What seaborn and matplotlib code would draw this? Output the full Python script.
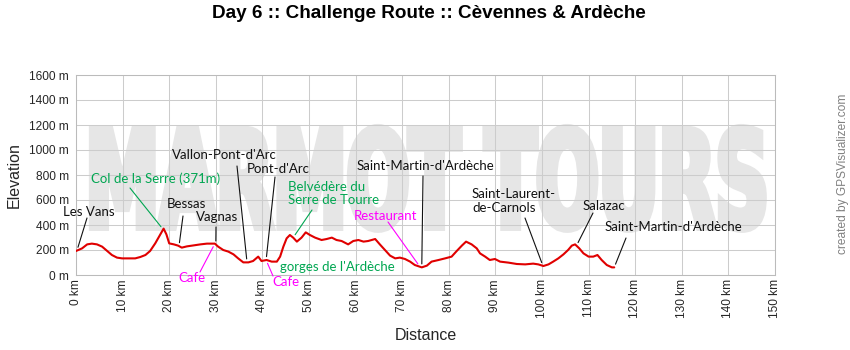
import numpy as np
import pandas as pd
import seaborn as sns
import matplotlib
matplotlib.use("Agg")
import matplotlib.pyplot as plt
from matplotlib import patheffects
from matplotlib.transforms import Affine2D
from matplotlib.textpath import TextPath
from matplotlib.font_manager import FontProperties

# ---------------- data ----------------
km = [0, 1.3, 2.4, 3.4, 4.5, 5.6, 6.7, 7.7, 8.8, 9.9, 11.3, 12.7, 13.8, 14.9, 15.9,
      17.0, 18.1, 18.8, 19.4, 20.0, 21.0, 21.9, 22.7, 23.8, 24.9, 26.7, 28.1, 29.8,
      30.5, 31.6, 32.7, 33.8, 34.8, 35.9, 37.0, 38.0, 39.1, 39.8, 40.9, 42.0, 43.1,
      43.8, 44.5, 45.2, 45.9, 46.6, 47.4, 48.4, 49.3, 50.2, 51.3, 52.7, 53.8, 54.9,
      55.9, 57.0, 58.4, 59.5, 60.6, 61.7, 62.7, 64.2, 65.2, 66.3, 67.4, 68.5, 69.5,
      70.6, 71.7, 72.7, 74.2, 75.3, 76.3, 77.8, 79.2, 80.6, 81.7, 82.8, 83.7, 84.9,
      86.0, 86.7, 87.8, 88.8, 89.9, 91.0, 92.8, 94.6, 96.4, 98.1, 99.2, 100.3, 101.4,
      102.4, 103.5, 104.6, 105.6, 106.4, 107.1, 108.0, 108.9, 110.0, 111.0, 111.9,
      112.8, 113.9, 115.0, 115.5]
elev = [192, 213, 245, 251, 245, 227, 192, 160, 139, 133, 133, 133, 144, 160, 192,
        253, 325, 371, 325, 253, 245, 235, 219, 229, 235, 245, 251, 251,
        227, 200, 187, 165, 133, 101, 101, 112, 147, 112, 120, 107, 107,
        147, 227, 293, 320, 299, 267, 299, 341, 320, 299, 280, 288, 299,
        280, 272, 245, 272, 280, 267, 272, 288, 245, 200, 155, 133, 139,
        128, 107, 80, 61, 75, 107, 120, 133, 147, 192, 235, 267, 245,
        213, 173, 147, 120, 128, 107, 99, 88, 85, 91, 85, 72, 85,
        107, 133, 165, 200, 235, 245, 213, 173, 147, 147, 160,
        120, 80, 61, 61]

x_ticks = list(range(0, 151, 10))
y_ticks = list(range(0, 1601, 200))
x_tick_labels = [f"{v} km" for v in x_ticks]
y_tick_labels = [f"{v} m" for v in y_ticks]

title = "Day 6 :: Challenge Route :: Cèvennes & Ardèche"
watermark = "MARMOT TOURS"
credit = "created by GPSVisualizer.com"

# waypoints: name, km on the route, kind
wp_names = ["Les Vans", "Col de la Serre (371m)", "Bessas", "Vagnas",
            "Vallon-Pont-d'Arc", "Pont-d'Arc", "Belvédère du\nSerre de Tourre",
            "gorges de l'Ardèche", "Cafe", "Cafe", "Saint-Martin-d'Ardèche",
            "Restaurant", "Saint-Laurent-\nde-Carnols", "Salazac",
            "Saint-Martin-d'Ardèche"]
wp_km = [0.2, 18.7, 22.1, 30.0, 36.7, 40.8, 46.6, 43.5, 29.8, 40.8, 74.2, 73.8,
         100.2, 107.4, 115.5]
wp_kind = ["town", "view", "town", "town", "town", "town", "view", "view",
           "food", "food", "town", "food", "town", "town", "town"]

# ---------------- layout (pixels of the 850x350 picture) ----------------
W, H = 850, 350
AX_L, AX_R, AX_T, AX_B = 76, 775, 75, 275
# text anchor (x, y, ha) and leader start (x, y) or None
wp_layout = [
    ((89, 211.5, "center"), (87, 218)),
    ((155.5, 178.5, "center"), (130, 188)),
    ((186.5, 204, "center"), (183, 216)),
    ((217.5, 217, "center"), (216, 227)),
    ((224, 155, "center"), (237, 166)),
    ((278.5, 169, "center"), (275, 177)),
    ((288, 193.5, "left"), (312, 210)),
    ((280, 267, "left"), None),
    ((192, 278.5, "center"), (200, 272)),
    ((286, 282, "center"), (273, 276)),
    ((425, 166, "center"), (423, 176)),
    ((385.5, 216, "center"), (388, 222)),
    ((472, 201, "left"), (525, 218)),
    ((603.5, 206, "center"), (593, 213)),
    ((673.5, 227, "center"), (626, 238)),
]
kind_color = {"town": "#111111", "view": "#00a651", "food": "#ff00ff"}

# watermark box (pixels)
WM_CX, WM_BASE, WM_W, WM_H, WM_STROKE = 427.0, 231.0, 678.0, 109.0, 7.0


def px2data(x, y):
    return ((x - AX_L) / (AX_R - AX_L) * 150.0, (AX_B - y) / (AX_B - AX_T) * 1600.0)


sns.set_theme(style="white")
plt.rcParams['font.family'] = ['Liberation Sans', 'DejaVu Sans']

fig = plt.figure(figsize=(W / 100, H / 100), dpi=100)
fig.patch.set_facecolor("white")
ax = fig.add_axes([AX_L / W, (H - AX_B) / H, (AX_R - AX_L) / W, (AX_B - AX_T) / H])
ax.set_facecolor("white")

df = pd.DataFrame({"Distance": km, "Elevation": elev})
sns.lineplot(data=df, x="Distance", y="Elevation", ax=ax, color="#e00000",
             lw=1.5, zorder=3, estimator=None, sort=False)

ax.set_xlim(0, 150)
ax.set_ylim(0, 1600)
ax.set_xticks(x_ticks)
ax.set_xticklabels(x_tick_labels, rotation=90, fontsize=8.6)
ax.set_yticks(y_ticks)
ax.set_yticklabels(y_tick_labels, fontsize=8.6)
ax.tick_params(axis="x", length=0, pad=3)
ax.tick_params(axis="y", length=0, pad=5)
ax.set_xlabel("")
ax.set_ylabel("")
ax.grid(True, color="#cccccc", lw=0.75)
ax.set_axisbelow(True)
for s in ax.spines.values():
    s.set_color("#bbbbbb")
    s.set_linewidth(0.75)


# ---------------- watermark (real text, vertically stretched, emboldened) ----------------
class StretchBold(patheffects.AbstractPathEffect):
    def __init__(self, sy, stroke_px, color):
        super().__init__()
        self.sy = sy
        self.stroke_px = stroke_px
        self.color = color

    def draw_path(self, renderer, gc, tpath, affine, rgbFace=None):
        aff = Affine2D().scale(1.0, self.sy) + affine
        gc0 = renderer.new_gc()
        gc0.copy_properties(gc)
        gc0.set_linewidth(self.stroke_px * 72.0 / renderer.dpi)
        gc0.set_foreground(self.color)
        gc0.set_joinstyle("miter")
        renderer.draw_path(gc0, tpath, aff, rgbFace)
        gc0.restore()


wm_color = "#e6e6e6"
wm_fp = FontProperties(family=["Liberation Sans Narrow", "DejaVu Sans"], weight="bold")
ext = TextPath((0, 0), watermark, size=1, prop=wm_fp).get_extents()
em_px = (WM_W - WM_STROKE) / ext.width
sy = (WM_H - WM_STROKE) / (ext.height * em_px)
wm_fp.set_size(em_px * 72 / 100)
ax.text((WM_CX - AX_L) / (AX_R - AX_L), (AX_B - WM_BASE + WM_STROKE / 2) / (AX_B - AX_T),
        watermark, transform=ax.transAxes, ha="center", va="baseline",
        fontproperties=wm_fp, color=wm_color, zorder=0.2,
        path_effects=[StretchBold(sy, WM_STROKE, wm_color)])

# ---------------- waypoint labels ----------------
lab_family = ["Lato", "DejaVu Sans"]
for name, k, kind, ((tx, ty, ha), start) in zip(wp_names, wp_km, wp_kind, wp_layout):
    c = kind_color[kind]
    x0, y0 = px2data(tx, ty)
    ax.text(x0, y0, name, ha=ha, va="center", color=c, fontsize=9.5,
            family=lab_family, linespacing=1.15, zorder=5, clip_on=False)
    if start is not None:
        ax.annotate("", xy=(k, float(np.interp(k, km, elev))), xytext=px2data(*start),
                    arrowprops=dict(arrowstyle="-", color=c, lw=0.8,
                                    shrinkA=0, shrinkB=2.5),
                    annotation_clip=False, zorder=4)

# ---------------- figure texts ----------------
fig.text(429 / W, 1 - 13 / H, title, ha="center", va="center", fontsize=13.6,
         weight="bold", color="#000000")
fig.text(14.5 / W, 1 - 175 / H, "Elevation", rotation=90, ha="center", va="center",
         fontsize=11.5)
fig.text(425.5 / W, 1 - 336 / H, "Distance", ha="center", va="center", fontsize=11.5)
fig.text(843 / W, 1 - 174 / H, credit, rotation=90, ha="center", va="center",
         fontsize=8.6, color="#808080")

fig.savefig("out.png", dpi=100)
